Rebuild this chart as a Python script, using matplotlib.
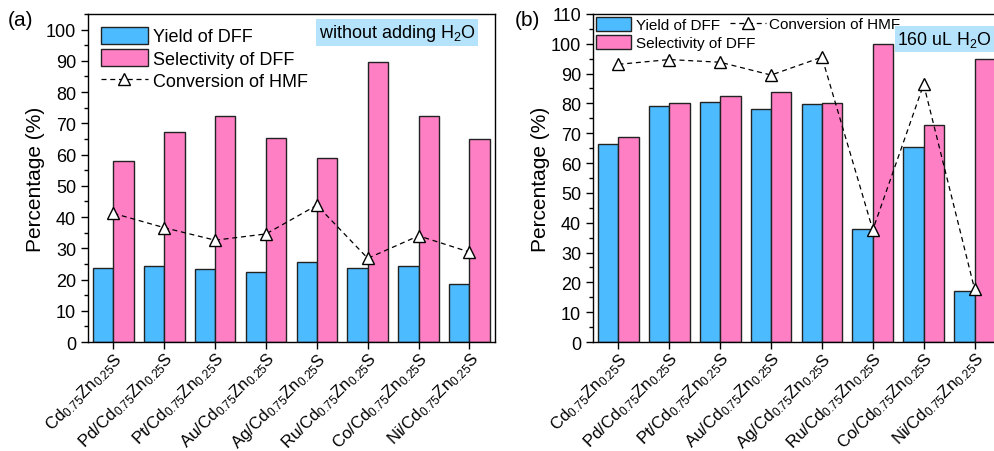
import numpy as np
import matplotlib
matplotlib.use('Agg')
from matplotlib import pyplot as plt
from matplotlib.ticker import MultipleLocator

plt.rcParams['font.family'] = ['Liberation Sans', 'DejaVu Sans']
plt.rcParams['mathtext.fontset'] = 'custom'
plt.rcParams['mathtext.rm'] = 'Liberation Sans'
plt.rcParams['mathtext.default'] = 'regular'

catalysts = ['Cd$_{0.75}$Zn$_{0.25}$S', 'Pd/Cd$_{0.75}$Zn$_{0.25}$S',
             'Pt/Cd$_{0.75}$Zn$_{0.25}$S', 'Au/Cd$_{0.75}$Zn$_{0.25}$S',
             'Ag/Cd$_{0.75}$Zn$_{0.25}$S', 'Ru/Cd$_{0.75}$Zn$_{0.25}$S',
             'Co/Cd$_{0.75}$Zn$_{0.25}$S', 'Ni/Cd$_{0.75}$Zn$_{0.25}$S']

# (a) without adding water
yield_a = [23.7, 24.4, 23.3, 22.4, 25.6, 23.6, 24.4, 18.5]
select_a = [58.0, 67.2, 72.2, 65.2, 59.0, 89.6, 72.2, 65.0]
conv_a = [41.2, 36.6, 32.6, 34.6, 43.8, 26.8, 34.0, 28.8]

# (b) 160 uL water
yield_b = [66.5, 79.1, 80.6, 78.2, 79.9, 37.9, 65.5, 17.1]
select_b = [68.7, 80.2, 82.4, 83.8, 80.2, 99.8, 72.8, 95.0]
conv_b = [93.1, 94.7, 93.8, 89.5, 95.5, 37.6, 86.4, 17.8]

blue = '#4dbbff'
pink = '#ff7fc4'
edge = '#222222'

fig = plt.figure(figsize=(9.95, 4.52), dpi=100)
ax1 = fig.add_axes([0.0884, 0.241, 0.409, 0.726])
ax2 = fig.add_axes([0.596, 0.241, 0.409, 0.726])

x = np.arange(len(catalysts))
w = 0.4

def draw_panel(ax, yld, sel, conv, ymax, top):
    b1 = ax.bar(x - w/2, yld, w, color=blue, edgecolor=edge, linewidth=1, label='Yield of DFF')
    b2 = ax.bar(x + w/2, sel, w, color=pink, edgecolor=edge, linewidth=1, label='Selectivity of DFF')
    ln, = ax.plot(x, conv, ls=(0, (4, 3)), color='black', lw=0.9, marker='^',
                  markersize=8, markerfacecolor='white', markeredgecolor='black',
                  markeredgewidth=1, label='Conversion of HMF', zorder=5)
    ax.set_xlim(-0.5, 7.5)
    ax.set_ylim(0, ymax)
    ax.set_yticks(np.arange(0, top + 1, 10))
    ax.yaxis.set_minor_locator(MultipleLocator(5))
    ax.set_xticks(x)
    ax.set_xticklabels(catalysts, rotation=45, ha='right', rotation_mode='anchor', fontsize=12.2)
    ax.tick_params(axis='both', direction='out', length=5, width=1, labelsize=13)
    ax.tick_params(axis='y', which='minor', direction='out', length=3, width=1)
    ax.tick_params(axis='x', pad=0, labelsize=12.2)
    ax.set_ylabel('Percentage (%)', fontsize=15, labelpad=1)
    for s in ax.spines.values():
        s.set_linewidth(1)
    return b1, b2, ln

b1, b2, ln = draw_panel(ax1, yield_a, select_a, conv_a, 105, 100)
ax1.legend([b1, b2, ln], ['Yield of DFF', 'Selectivity of DFF', 'Conversion of HMF'],
           loc='upper left', frameon=False, fontsize=13, handlelength=2.6,
           handleheight=1.1, labelspacing=0.2, handletextpad=0.3,
           borderaxespad=0.6, borderpad=0.1)
ax1.text(0.953, 0.944, 'without adding H$_2$O', transform=ax1.transAxes, fontsize=13,
         ha='right', va='center',
         bbox=dict(boxstyle='square,pad=0.15', facecolor='#b5e3fb', edgecolor='none'))

c1, c2, ln2 = draw_panel(ax2, yield_b, select_b, conv_b, 110, 110)
leg_b = ax2.legend([c1, c2], ['Yield of DFF', 'Selectivity of DFF'],
                   loc='upper left', frameon=False, fontsize=11, handlelength=2.3,
                   handleheight=1.05, labelspacing=0.15, handletextpad=0.3,
                   borderaxespad=0.1, borderpad=0.1)
ax2.add_artist(leg_b)
ax2.legend([ln2], ['Conversion of HMF'], loc='upper left', bbox_to_anchor=(0.33, 1.0),
           frameon=False, fontsize=11, handlelength=2.3, handletextpad=0.2,
           borderaxespad=0.1, borderpad=0.1)
ax2.text(0.748, 0.924, '160 uL H$_2$O', transform=ax2.transAxes, fontsize=12.8,
         ha='left', va='center',
         bbox=dict(boxstyle='square,pad=0.15', facecolor='#b5e3fb', edgecolor='none'))

fig.text(0.008, 0.955, '(a)', fontsize=15, ha='left', va='center')
fig.text(0.517, 0.955, '(b)', fontsize=15, ha='left', va='center')

fig.savefig('out.png', dpi=100)
